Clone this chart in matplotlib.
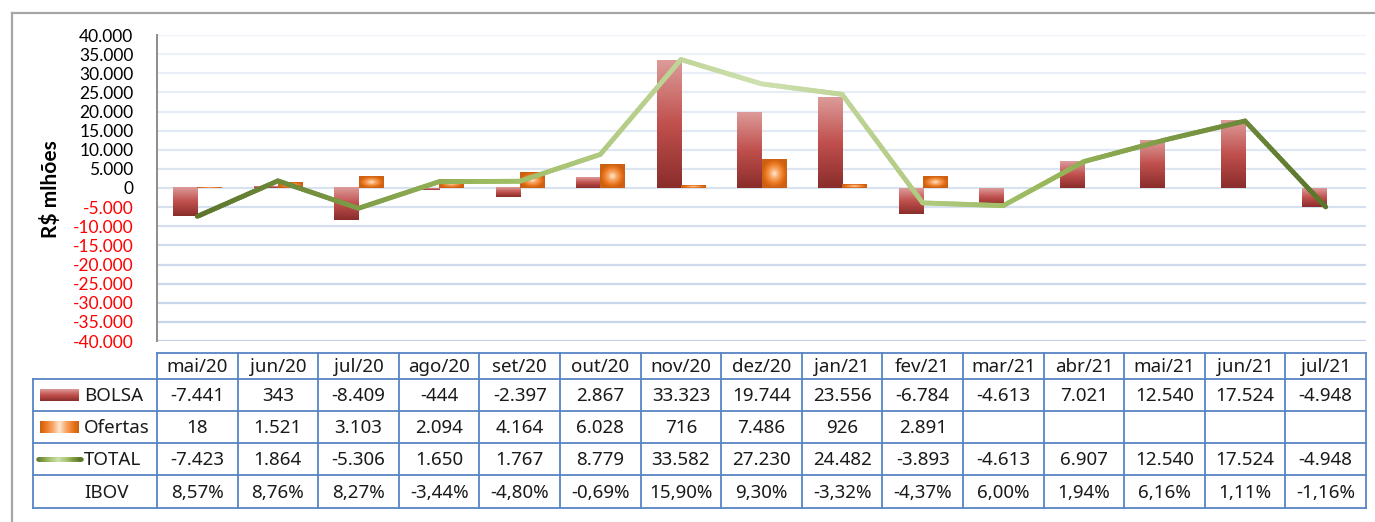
import numpy as np
import matplotlib
matplotlib.use("Agg")
import matplotlib.pyplot as plt
from matplotlib.collections import LineCollection
from matplotlib.colors import LinearSegmentedColormap

# ---------------- data ----------------
months = ["mai/20", "jun/20", "jul/20", "ago/20", "set/20", "out/20", "nov/20",
          "dez/20", "jan/21", "fev/21", "mar/21", "abr/21", "mai/21", "jun/21", "jul/21"]
bolsa = [-7441, 343, -8409, -444, -2397, 2867, 33323, 19744, 23556, -6784,
         -4613, 7021, 12540, 17524, -4948]
ofertas = [18, 1521, 3103, 2094, 4164, 6028, 716, 7486, 926, 2891,
           None, None, None, None, None]
total = [-7423, 1864, -5306, 1650, 1767, 8779, 33582, 27230, 24482, -3893,
         -4613, 6907, 12540, 17524, -4948]
ibov = [8.57, 8.76, 8.27, -3.44, -4.80, -0.69, 15.90, 9.30, -3.32, -4.37,
        6.00, 1.94, 6.16, 1.11, -1.16]
yticks = list(range(-40000, 40001, 5000))
series_names = ["BOLSA", "Ofertas", "TOTAL", "IBOV"]


def fmt_int(v):
    if v is None:
        return ""
    s = f"{abs(int(v)):,}".replace(",", ".")
    return ("-" if v < 0 else "") + s


def fmt_pct(v):
    return f"{v:.2f}".replace(".", ",") + "%"


# ---------------- figure ----------------
W, H = 1375, 522
fig = plt.figure(figsize=(W / 100, H / 100), dpi=100)
fig.patch.set_facecolor("white")

L, R, T, B = 157, 1366, 35, 341
ax = fig.add_axes([L / W, 1 - B / H, (R - L) / W, (B - T) / H])
n = len(months)
xs = np.arange(n)

TICK_FONT = "Lato"
TABLE_FONT = "Noto Sans"

# gridlines with a soft fade toward the top
for i, t in enumerate(yticks):
    a = 0.25 + 0.75 * (1 - i / (len(yticks) - 1))
    ax.axhline(t, color="#c3d2e8", lw=1.6, alpha=a, zorder=0)

red_cmap = LinearSegmentedColormap.from_list(
    "red", [(0, "#8a2d2b"), (0.5, "#c0504d"), (1, "#dc9b99")])
org_cmap = LinearSegmentedColormap.from_list(
    "org", [(0, "#fde4cc"), (0.35, "#f8a462"), (0.75, "#e8731a"), (1, "#cd6012")])
grn_cmap = LinearSegmentedColormap.from_list(
    "grn", [(0, "#5a742a"), (0.5, "#9ab95c"), (1, "#cfe0b0")])

vgrad = np.linspace(0, 1, 120)[:, None]
uu, vv = np.meshgrid(np.linspace(-1, 1, 60), np.linspace(-1, 1, 60))
rgrad = np.clip(np.sqrt(uu ** 2 + vv ** 2), 0, 1)

bw = 0.3
for i in range(n):
    b = bolsa[i]
    if b is not None:
        ax.imshow(vgrad, cmap=red_cmap, origin="lower", aspect="auto",
                  extent=(xs[i] - bw, xs[i], min(0, b), max(0, b)),
                  interpolation="bilinear", zorder=2)
    o = ofertas[i]
    if o is not None:
        ax.imshow(rgrad, cmap=org_cmap, origin="lower", aspect="auto",
                  extent=(xs[i], xs[i] + bw, min(0, o), max(0, o)),
                  interpolation="bilinear", zorder=2)

# TOTAL line with a horizontal colour gradient
segs, cols = [], []
sub = 30
for i in range(n - 1):
    for k in range(sub):
        t0, t1 = k / sub, (k + 1) / sub
        x0 = xs[i] + t0
        x1 = xs[i] + t1
        y0 = total[i] + (total[i + 1] - total[i]) * t0
        y1 = total[i] + (total[i + 1] - total[i]) * t1
        segs.append([(x0, y0), (x1, y1)])
        xm = (x0 + x1) / 2
        s = 1 - abs(xm - (n - 1) / 2) / ((n - 1) / 2)
        cols.append(grn_cmap(s))
lc = LineCollection(segs, colors=cols, linewidths=3.5, capstyle="round",
                    joinstyle="round", zorder=3)
ax.add_collection(lc)

ax.set_xlim(-0.5, n - 0.5)
ax.set_ylim(-40000, 40000)
ax.set_xticks([])
ax.set_yticks(yticks)
ax.set_yticklabels([fmt_int(t) for t in yticks], family=TICK_FONT, fontsize=12.5)
for lab, t in zip(ax.get_yticklabels(), yticks):
    lab.set_color("#ff0000" if t < 0 else "black")
ax.tick_params(axis="y", length=0, pad=17)
for sp in ["top", "right", "bottom"]:
    ax.spines[sp].set_visible(False)
ax.spines["left"].set_color("#8c8c8c")
ax.spines["left"].set_linewidth(1.4)
ax.set_facecolor("none")

fig.text(51 / W, 1 - 189 / H, "R$ mlhões", rotation=90, ha="center",
         va="center", fontsize=15, fontweight="bold", family=TICK_FONT)

# ---------------- overlay for frame and data table ----------------
tax = fig.add_axes([0, 0, 1, 1], zorder=-1)
tax.set_xlim(0, W)
tax.set_ylim(H, 0)
tax.axis("off")

frame_c = "#a6a6a6"
tax.plot([12, 12], [13, H + 5], color=frame_c, lw=1.6)
tax.plot([12, W + 5], [13, 13], color=frame_c, lw=1.6)

tc = "#5784c4"
tlw = 1.3
colw = (R - L) / n
col_edges = [L + i * colw for i in range(n + 1)]
LEG_L = 33
row_edges = [353, 379, 411, 443, 475, 508]

tax.plot([L, R], [row_edges[0], row_edges[0]], color=tc, lw=tlw)
for ye in row_edges[1:]:
    tax.plot([LEG_L, R], [ye, ye], color=tc, lw=tlw)
for xe in col_edges:
    tax.plot([xe, xe], [row_edges[0], row_edges[-1]], color=tc, lw=tlw)
tax.plot([LEG_L, LEG_L], [row_edges[1], row_edges[-1]], color=tc, lw=tlw)

tf = dict(family=TABLE_FONT, fontsize=13.5, color="#1a1a1a",
          ha="center", va="center")
for i in range(n):
    cx = (col_edges[i] + col_edges[i + 1]) / 2
    tax.text(cx, (row_edges[0] + row_edges[1]) / 2 + 1, months[i], **tf)
    tax.text(cx, (row_edges[1] + row_edges[2]) / 2 + 1, fmt_int(bolsa[i]), **tf)
    tax.text(cx, (row_edges[2] + row_edges[3]) / 2 + 1, fmt_int(ofertas[i]), **tf)
    tax.text(cx, (row_edges[3] + row_edges[4]) / 2 + 1, fmt_int(total[i]), **tf)
    tax.text(cx, (row_edges[4] + row_edges[5]) / 2 + 1, fmt_pct(ibov[i]), **tf)

lf = dict(family=TABLE_FONT, fontsize=13.5, color="#1a1a1a",
          ha="left", va="center")
for r, name in enumerate(series_names):
    cy = (row_edges[r + 1] + row_edges[r + 2]) / 2
    tax.text(84, cy + 1, name, **lf)

# legend keys
cy = (row_edges[1] + row_edges[2]) / 2
tax.imshow(vgrad, cmap=red_cmap, origin="lower", aspect="auto",
           extent=(40, 79, cy + 6, cy - 6), interpolation="bilinear")
cy = (row_edges[2] + row_edges[3]) / 2
kx = np.linspace(-1, 1, 60)
kg = np.clip(np.abs(kx)[None, :] * np.ones((20, 1)), 0, 1)
tax.imshow(kg, cmap=org_cmap, origin="lower", aspect="auto",
           extent=(40, 79, cy + 6, cy - 6), interpolation="bilinear")
cy = (row_edges[3] + row_edges[4]) / 2
kxs = np.linspace(38, 81, 40)
ksegs = [[(kxs[j], cy), (kxs[j + 1], cy)] for j in range(len(kxs) - 1)]
kcols = [grn_cmap(1 - abs((kxs[j] + kxs[j + 1]) / 2 - 59.5) / 21.5)
         for j in range(len(kxs) - 1)]
tax.add_collection(LineCollection(ksegs, colors=kcols, linewidths=3.3,
                                  capstyle="round"))
tax.set_xlim(0, W)
tax.set_ylim(H, 0)

fig.savefig("out.png", dpi=100, facecolor="white")
